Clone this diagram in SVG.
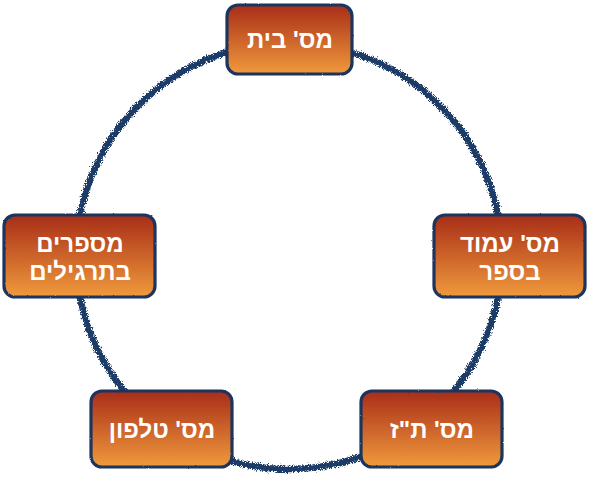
<svg xmlns="http://www.w3.org/2000/svg" width="590" height="481" viewBox="0 0 590 481">
<defs>
<linearGradient id="g" x1="0" y1="0" x2="0" y2="1">
<stop offset="0" stop-color="#a82d18"/>
<stop offset="1" stop-color="#f09a3c"/>
</linearGradient>
<filter id="rough" x="-10%" y="-10%" width="120%" height="120%">
<feTurbulence type="fractalNoise" baseFrequency="1.2" numOctaves="2" seed="3" result="n"/>
<feDisplacementMap in="SourceGraphic" in2="n" scale="7" xChannelSelector="R" yChannelSelector="G"/>
</filter>
<filter id="rough2" x="-5%" y="-5%" width="110%" height="110%">
<feTurbulence type="fractalNoise" baseFrequency="0.6" numOctaves="1" seed="5" result="n"/>
<feDisplacementMap in="SourceGraphic" in2="n" scale="2" xChannelSelector="R" yChannelSelector="G"/>
</filter>
</defs>
<style>
.box{fill:url(#g);stroke:#1b355e;stroke-width:3.2}
.t{font-family:"Liberation Sans","DejaVu Sans",sans-serif;font-weight:bold;font-size:24px;fill:#ffffff;text-anchor:middle;direction:rtl}
.ring{fill:none;stroke:#1b3a66;stroke-width:6.5}
</style>
<g id="connectors">
<circle class="ring" cx="289" cy="256" r="213" filter="url(#rough)"/>
</g>
<g id="node-top">
<rect class="box" x="227" y="5" width="125" height="69" rx="11" filter="url(#rough2)"/>
<text class="t" x="290" y="48">מס' בית</text>
</g>
<g id="node-right">
<rect class="box" x="434" y="215" width="151" height="82" rx="11" filter="url(#rough2)"/>
<text class="t" x="510" y="252">מס' עמוד</text>
<text class="t" x="510" y="280">בספר</text>
</g>
<g id="node-bottom-right">
<rect class="box" x="361" y="391" width="141" height="76" rx="11" filter="url(#rough2)"/>
<text class="t" x="432" y="438">מס' ת"ז</text>
</g>
<g id="node-bottom-left">
<rect class="box" x="91" y="391" width="141" height="76" rx="11" filter="url(#rough2)"/>
<text class="t" x="162" y="438">מס' טלפון</text>
</g>
<g id="node-left">
<rect class="box" x="4" y="215" width="151" height="82" rx="11" filter="url(#rough2)"/>
<text class="t" x="80" y="252">מספרים</text>
<text class="t" x="80" y="280">בתרגילים</text>
</g>
</svg>
